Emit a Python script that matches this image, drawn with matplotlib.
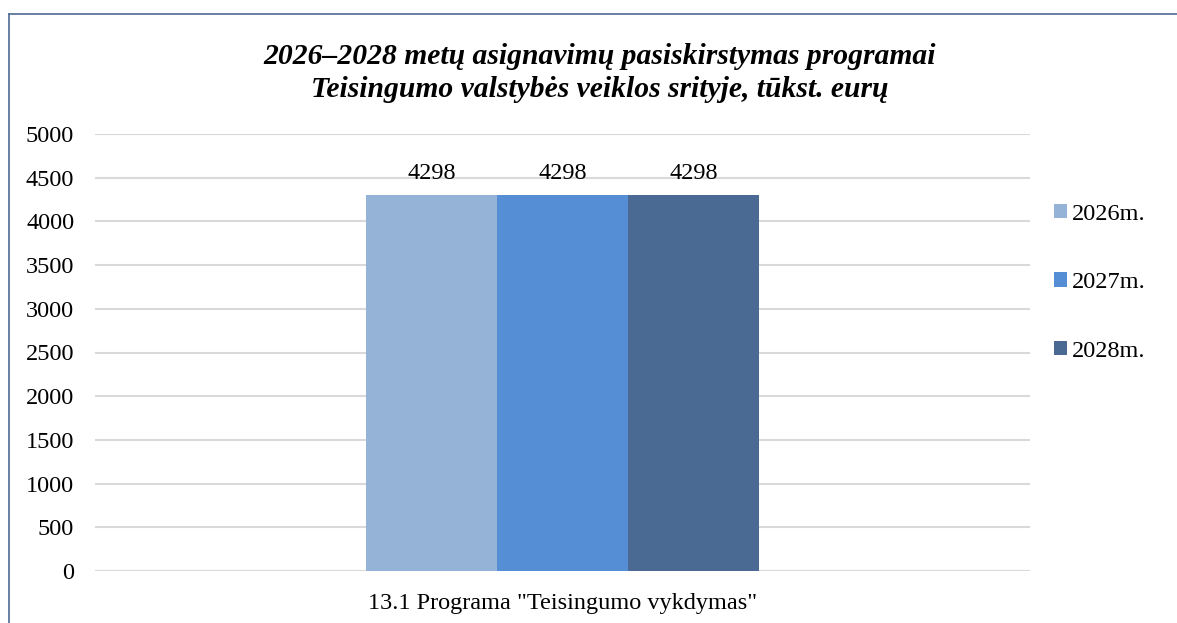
import matplotlib
matplotlib.use("Agg")
import matplotlib.pyplot as plt
import numpy as np
from matplotlib.lines import Line2D

categories = ['13.1 Programa "Teisingumo vykdymas"']
series = ["2026m.", "2027m.", "2028m."]
values_2026 = [4298]
values_2027 = [4298]
values_2028 = [4298]
yticks = [0, 500, 1000, 1500, 2000, 2500, 3000, 3500, 4000, 4500, 5000]
title = "2026–2028 metų asignavimų pasiskirstymas programai\nTeisingumo valstybės veiklos srityje, tūkst. eurų"

colors = ["#95B3D7", "#558ED5", "#4A6A94"]

plt.rcParams["font.family"] = ["Liberation Serif", "DejaVu Serif"]
FS = 17.5

fig = plt.figure(figsize=(11.77, 6.23), dpi=100)
ax = fig.add_axes([95/1177, 1 - 571/623, (1030-95)/1177, (571-134)/623])

x = np.arange(len(categories))
w = 131/935
all_vals = [values_2026, values_2027, values_2028]
for i, (name, vals) in enumerate(zip(series, all_vals)):
    bars = ax.bar(x + (i - 1) * w, vals, width=w, color=colors[i], label=name, zorder=3)
    for b, v in zip(bars, vals):
        ax.text(b.get_x() + b.get_width()/2, v + 130, f"{v}", ha="center", va="bottom",
                fontsize=FS, color="#000000")

ax.set_xlim(-0.5, 0.5)
ax.set_ylim(0, 5000)
ax.set_yticks(yticks)
ax.set_yticklabels([str(t) for t in yticks], fontsize=FS)
ax.set_xticks(x)
ax.set_xticklabels(categories, fontsize=FS)
ax.tick_params(axis="both", length=0)
ax.tick_params(axis="y", pad=15)
ax.tick_params(axis="x", pad=16)
ax.yaxis.grid(True, color="#D9D9D9", linewidth=1.5, zorder=0)
for s in ax.spines.values():
    s.set_visible(False)
ax.axhline(0, color="#D9D9D9", linewidth=1.5, zorder=1)

leg = fig.legend(loc="upper left", bbox_to_anchor=(1044/1177, 1 - 194/623), frameon=False,
                 fontsize=FS, handlelength=0.55, handleheight=0.55, handletextpad=0.2,
                 labelspacing=1.95, borderaxespad=0)

fig.text(600/1177, 1 - 73/623, title, ha="center", va="center", fontsize=21.3,
         fontweight="bold", fontstyle="italic", linespacing=1.25)

# outer frame lines (left and top)
fig.add_artist(Line2D([8.5/1177, 8.5/1177], [0, 1 - 13.5/623], color="#4F6A94", linewidth=1.2, transform=fig.transFigure))
fig.add_artist(Line2D([8.5/1177, 1], [1 - 13.5/623, 1 - 13.5/623], color="#4F6A94", linewidth=1.2, transform=fig.transFigure))

fig.savefig("out.png", dpi=100)
